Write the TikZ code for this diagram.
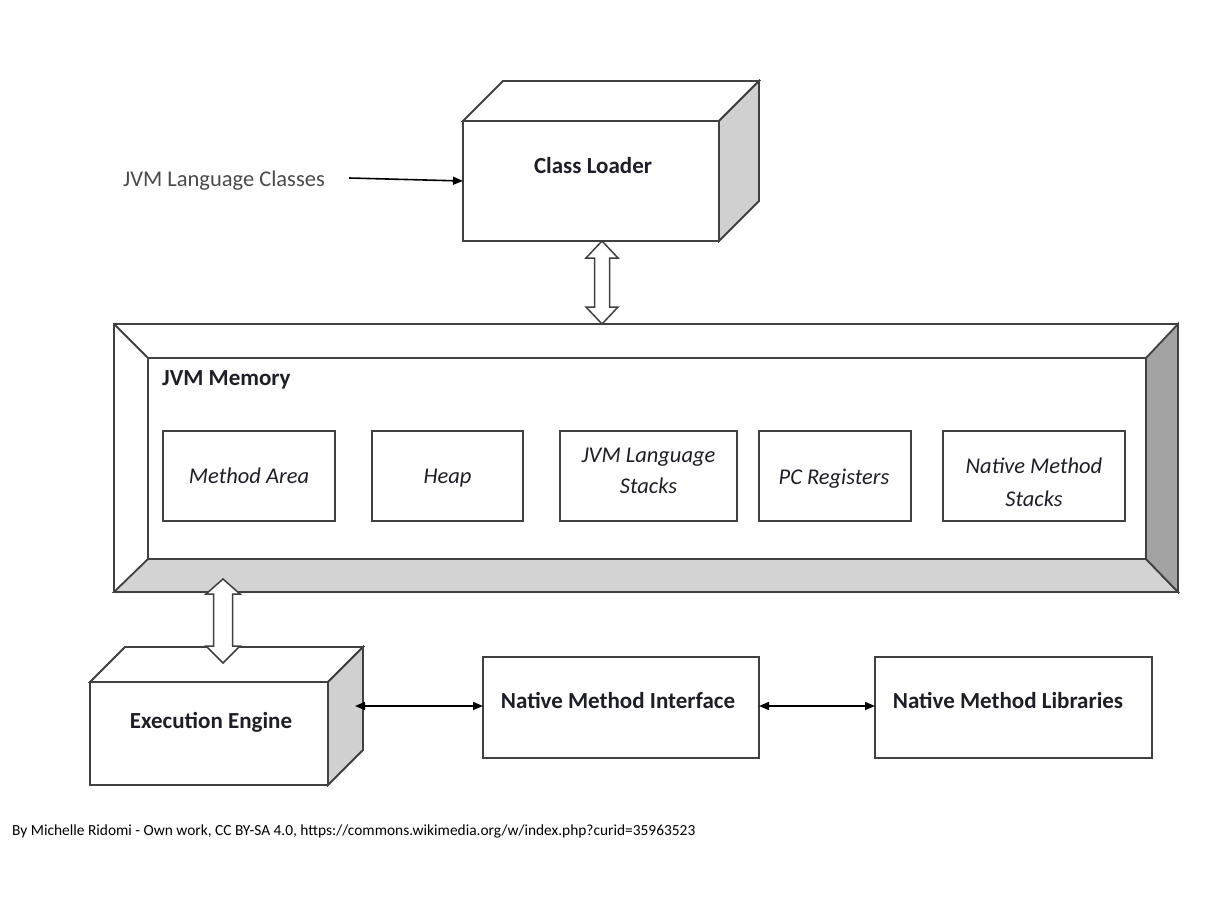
\documentclass[tikz,border=0pt]{standalone}
\usepackage{fontspec}
\setmainfont{Carlito}
\usetikzlibrary{calc,arrows.meta}
\definecolor{linec}{HTML}{404040}
\definecolor{bevlight}{HTML}{D3D3D3}
\definecolor{bevdark}{HTML}{A3A3A3}
\definecolor{sidec}{HTML}{D0D0D0}
\definecolor{txtc}{HTML}{1E1E28}
\definecolor{graytxt}{HTML}{4A4A4A}
\tikzset{
  face/.style={draw=linec, line width=1.8pt, line join=miter},
  boxfront/.style={draw=linec, line width=1.8pt, outer sep=0pt, inner sep=0pt, fill=white},
  innerbox/.style={draw=linec, line width=1.5pt, outer sep=0pt, inner sep=0pt, minimum height=90},
  itxt/.style={inner sep=0pt, anchor=base, text=txtc, font=\itshape\fontsize{22.5}{32}\selectfont},
  boldtxt/.style={inner sep=0pt, text=txtc, font=\bfseries\fontsize{23}{27}\selectfont},
  hollow/.style={draw=linec, line width=1.5pt, fill=white, line join=miter},
  thinarrow/.style={draw=black, line width=1.6pt, {Triangle[length=10pt,width=8pt]}-{Triangle[length=10pt,width=8pt]}}
}
\begin{document}
\begin{tikzpicture}[x=1pt,y=-1pt]
\fill[white] (0,0) rectangle (1232,910);
\useasboundingbox (0,0) rectangle (1232,910);

% Class Loader (3D box)
\node[boxfront, minimum width=256, minimum height=120] (cl) at (591,181) {};
\draw[face, fill=white] (cl.north west) -- ++(40,-40) -- ($(cl.north east)+(40,-40)$) -- (cl.north east) -- cycle;
\draw[face, fill=sidec] (cl.north east) -- ++(40,-40) -- ($(cl.south east)+(40,-40)$) -- (cl.south east) -- cycle;
\node[boldtxt] (cltx) at (593,166) {Class Loader};

% JVM Language Classes
\node[inner sep=0pt, text=graytxt, font=\fontsize{22.5}{27}\selectfont] (jlc) at (224,181) {JVM Language Classes};
\draw[draw=black, line width=1.6pt, -{Triangle[length=10pt,width=8pt]}] ($(jlc.east)+(24,-3)$) -- (cl.west);

% JVM Memory frame
\node[boxfront, fill=none, minimum width=1064, minimum height=268] (mem) at (646,458) {};
\node[boxfront, fill=none, minimum width=998, minimum height=201] (memin) at (647,458.5) {};
\draw[face] (mem.north west) -- (memin.north west);
\draw[face, fill=bevlight] (mem.south west) -- (memin.south west) -- (memin.south east) -- (mem.south east) -- cycle;
\draw[face, fill=bevdark] (mem.north east) -- (memin.north east) -- (memin.south east) -- (mem.south east) -- cycle;
\node[boldtxt, anchor=west] (memtx) at (162,380) {JVM Memory};

% Inner memory boxes
\node[innerbox, minimum width=172] (ma) at (249,476) {};
\node[innerbox, minimum width=151] (heap) at (447.5,476) {};
\node[innerbox, minimum width=177] (jls) at (648.5,476) {};
\node[innerbox, minimum width=152] (pcr) at (835,476) {};
\node[innerbox, minimum width=182] (nms) at (1034,476) {};
\node[itxt] (matx) at (249,483) {Method Area};
\node[itxt] (heaptx) at (447.5,483) {Heap};
\node[itxt] (jlstx1) at (648.5,462) {JVM Language};
\node[itxt] (jlstx2) at (648.5,493) {Stacks};
\node[itxt] (pcrtx) at (834,484) {PC Registers};
\node[itxt] (nmstx1) at (1034,473) {Native Method};
\node[itxt] (nmstx2) at (1034,506) {Stacks};

% Hollow double arrow: Class Loader <-> JVM Memory
\coordinate (a1t) at ($(cl.south)+(11,0)$);
\coordinate (a1b) at (a1t |- mem.north);
\draw[hollow] (a1t) -- ++(16,17) -- ++(-8.5,0) -- ($(a1b)+(7.5,-17)$) -- ++(8.5,0) -- (a1b)
  -- ++(-16,-17) -- ++(8.5,0) -- ($(a1t)+(-7.5,17)$) -- ++(-8.5,0) -- cycle;

% Execution Engine (3D box)
\node[boxfront, minimum width=238, minimum height=103] (ee) at (209,733.5) {};
\draw[face, fill=white] (ee.north west) -- ++(35,-35) -- ($(ee.north east)+(35,-35)$) -- (ee.north east) -- cycle;
\draw[face, fill=sidec] (ee.north east) -- ++(35,-35) -- ($(ee.south east)+(35,-35)$) -- (ee.south east) -- cycle;
\node[boldtxt] (eetx) at (211,722) {Execution Engine};

% Hollow double arrow: JVM Memory <-> Execution Engine
\coordinate (a2t) at ($(mem.south west)+(109,-13)$);
\coordinate (a2b) at ($(a2t |- ee.north)+(0,-19)$);
\draw[hollow] (a2t) -- ++(17,15) -- ++(-7.5,0) -- ($(a2b)+(9.5,-17)$) -- ++(7.5,0) -- (a2b)
  -- ++(-17,-17) -- ++(7.5,0) -- ($(a2t)+(-9.5,15)$) -- ++(-7.5,0) -- cycle;

% Native Method Interface / Libraries
\node[boxfront, minimum width=276, minimum height=101] (nmi) at (621,707.5) {};
\node[boldtxt] (nmitx) at (618,700) {Native Method Interface};
\node[boxfront, minimum width=277, minimum height=101] (nml) at (1013.5,707.5) {};
\node[boldtxt] (nmltx) at (1008,700) {Native Method Libraries};

\coordinate (eeside) at ($(ee.east)+(27,-27.5)$);
\draw[thinarrow] (eeside) -- (eeside -| nmi.west);
\coordinate (nmiE) at ($(nmi.east)+(0,-1.5)$);
\draw[thinarrow] (nmiE) -- (nmiE -| nml.west);

% Footer
\node[anchor=west, inner sep=0pt, text=black, font=\fontsize{15.4}{18}\selectfont] (foot) at (12,831)
  {By Michelle Ridomi - Own work, CC BY-SA 4.0, https://commons.wikimedia.org/w/index.php?curid=35963523};
\end{tikzpicture}
\end{document}
